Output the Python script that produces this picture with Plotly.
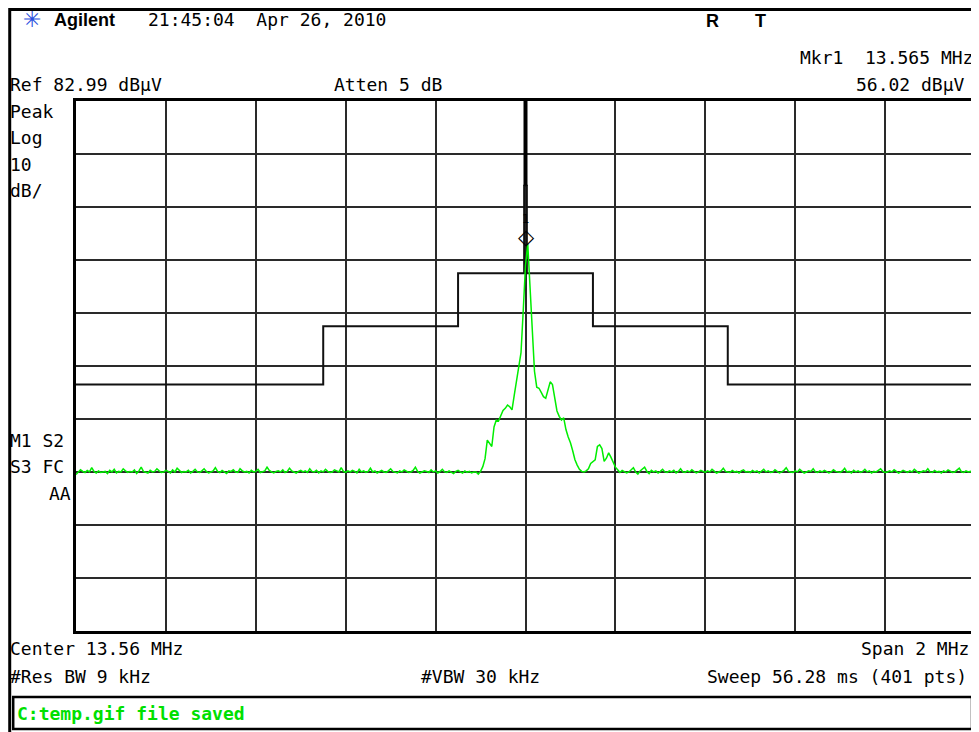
import plotly.graph_objects as go

# ---------------- data ----------------
center_mhz = 13.56
span_mhz = 2.0
ref_level = 82.99
db_per_div = 10

noise_left = [
    12.5, 13.0, 13.4, 13.1, 12.9, 13.3, 13.0, 13.8, 13.1, 12.8, 13.2, 12.9, 13.0, 13.1, 12.7, 13.3, 13.0, 13.5, 12.8, 13.1,
    13.0, 13.6, 13.2, 12.9, 13.1, 13.0, 13.4, 12.7, 13.2, 13.9, 13.1, 13.0, 12.8, 13.3, 13.0, 13.1, 13.6, 13.2, 12.9, 13.0,
    13.3, 13.1, 12.8, 13.4, 13.0, 13.7, 13.2, 12.9, 13.1, 13.0, 13.3, 12.8, 13.1, 13.5, 13.0, 12.9, 13.2, 13.6, 13.1, 12.8,
    13.0, 13.2, 13.8, 13.1, 12.9, 13.3, 13.0, 12.7, 13.2, 13.1, 13.4, 13.0, 12.9, 13.6, 13.2, 13.0, 13.1, 12.8, 13.3, 13.0,
    13.1, 13.5, 12.9, 13.0, 13.2, 13.9, 13.3, 13.0, 12.8, 13.1, 13.2, 13.0, 13.4, 12.9, 13.1, 13.7, 13.2, 13.0, 12.8, 13.1,
    13.3, 13.0, 13.2, 12.9, 13.6, 13.1, 13.0, 13.3, 12.8, 13.2, 13.0, 13.5, 13.1, 12.9, 13.0, 13.4, 13.2, 13.0, 13.8, 13.1,
    12.9, 13.2, 13.0, 13.3, 13.1, 12.8, 13.5, 13.0, 13.2, 12.9, 13.1, 13.7, 13.0, 13.2, 12.8, 13.1, 13.3, 13.0, 12.9, 13.2,
    13.6, 13.1, 13.0, 12.8, 13.2, 13.0, 13.4, 13.1, 12.9, 13.0, 13.3, 13.9, 13.1, 12.8, 13.0, 13.2, 13.1, 12.9, 13.4, 13.0,
    13.2, 12.8, 13.1, 13.5, 13.0, 12.9, 13.2, 13.0, 12.7, 13.1, 13.3, 13.0, 12.8, 13.2, 12.9, 13.1, 12.8, 13.0,
]
signal_mid = [
    13.0, 12.6, 13.1, 14.0, 15.5, 19.0, 18.5, 17.8, 21.5, 22.8, 22.6, 23.8, 24.6, 25.0, 25.6, 25.3, 24.7, 27.5, 30.0, 32.2,
    35.5, 43.5, 52.0, 56.02, 47.5, 38.5, 32.0, 29.0, 28.8, 28.0, 27.2, 26.9, 28.5, 30.0, 29.5, 27.2, 24.5, 23.5, 22.8, 23.2,
    21.0, 19.6, 18.5, 17.0, 15.3, 14.3, 13.5, 13.1, 13.0, 13.2, 13.6, 14.6, 15.0, 15.3, 17.8, 18.1, 17.4, 15.0, 15.6, 16.6,
    15.8, 14.9, 13.9, 13.4, 12.9, 13.3,
]
noise_right = [
    13.1, 12.8, 13.0, 13.4, 13.8, 13.0, 12.6, 13.2, 13.6, 13.9, 13.1, 12.7, 13.3, 13.0, 13.2, 12.8, 13.1, 13.5, 13.0, 12.9,
    13.2, 13.0, 13.3, 12.8, 13.1, 13.6, 13.0, 12.9, 13.2, 13.0, 13.4, 13.1, 12.8, 13.0, 13.3, 13.1, 12.9, 13.2, 13.0, 13.5,
    13.1, 12.8, 13.0, 13.2, 13.7, 13.1, 13.0, 12.9, 13.3, 13.0, 13.1, 12.8, 13.2, 13.4, 13.0, 13.1, 12.9, 13.3, 13.0, 13.2,
    12.8, 13.1, 13.5, 13.0, 13.2, 12.9, 13.0, 13.4, 13.1, 12.8, 13.0, 13.3, 13.8, 13.1, 13.0, 12.9, 13.2, 13.0, 13.5, 13.1,
    12.8, 13.0, 13.2, 13.1, 13.6, 13.0, 12.9, 13.2, 13.0, 13.3, 13.1, 12.8, 13.0, 13.4, 13.1, 13.0, 12.9, 13.2, 13.7, 13.0,
    13.1, 12.8, 13.3, 13.0, 13.2, 12.9, 13.1, 13.5, 13.0, 13.2, 12.8, 13.1, 13.0, 13.3, 13.6, 13.1, 12.9, 13.0, 13.2, 13.0,
    13.4, 13.1, 12.8, 13.0, 13.3, 13.1, 12.9, 13.2, 13.0, 13.5, 13.1, 12.8, 13.0, 13.2, 13.1, 13.6, 13.0, 12.9, 13.3, 13.0,
    13.1, 12.8, 13.2, 13.0, 13.4, 13.1, 12.9, 13.0, 13.3, 13.7, 13.0, 12.9, 13.2, 13.0, 13.1, 12.8, 13.1,
]

limit_freqs = [12.56, 13.110, 13.110, 13.410, 13.410, 13.557, 13.557, 13.563, 13.563, 13.710, 13.710, 14.010, 14.010, 14.56]
limit_levels = [29.5, 29.5, 40.5, 40.5, 50.5, 50.5, 67.0, 67.0, 50.5, 50.5, 40.5, 40.5, 29.5, 29.5]
center_band_freqs = [13.56, 13.56]
center_band_levels = [67.0, 82.99]

marker_freq = 13.565
marker_level = 56.02

# ---------------- build ----------------
trace_vals = noise_left + signal_mid + noise_right
n = len(trace_vals)
f_start = center_mhz - span_mhz / 2
f_stop = center_mhz + span_mhz / 2
freqs = [f_start + span_mhz * i / (n - 1) for i in range(n)]
y_bottom = ref_level - 10 * db_per_div

# target screen geometry (page body has an 8px margin)
OFF = 8
SW, SH = 979, 732
W, H = SW - OFF, SH - OFF
L, R, T, B = 76, 978, 101, 631


def px(x):
    return (x - L) / (R - L)


def py(y):
    return (B - y) / (B - T)


fig = go.Figure()
fig.add_trace(go.Scatter(x=limit_freqs, y=limit_levels, mode="lines",
                         line=dict(color="#111111", width=2), hoverinfo="skip"))
fig.add_trace(go.Scatter(x=center_band_freqs, y=center_band_levels, mode="lines",
                         line=dict(color="#000000", width=4), hoverinfo="skip"))
fig.add_trace(go.Scatter(x=freqs, y=trace_vals, mode="lines",
                         line=dict(color="#00ee00", width=1.5), hoverinfo="skip"))

MONO = "DejaVu Sans Mono"
anns = []


def txt(text, x, y, anchor="left", size=18, color="#000000", family=MONO):
    anns.append(dict(text=text, x=px(x), y=py(y), xref="paper", yref="paper",
                     xanchor=anchor, yanchor="middle", showarrow=False,
                     font=dict(family=family, size=size, color=color)))


NB = "\u00a0"
txt("✳", 32, 20, anchor="center", size=22, color="#2d4fe0", family="DejaVu Sans")
txt("<b>Agilent</b>", 52, 20, size=18, family="Liberation Sans")
txt("21:45:04" + NB * 2 + "Apr 26, 2010", 146, 20)
txt("<b>R</b>", 706, 21, size=18, family="Liberation Sans")
txt("<b>T</b>", 755, 21, size=18, family="Liberation Sans")
txt("Mkr1" + NB * 2 + "13.565 MHz", 978, 57, anchor="right")
txt("Ref 82.99 dBµV", 8, 84.5)
txt("Atten 5 dB", 333, 84.5)
txt("56.02 dBµV", 970, 84.5, anchor="right")
txt("Peak", 8, 111)
txt("Log", 8, 137.5)
txt("10", 8, 164)
txt("dB/", 8, 190)
txt("M1 S2", 8, 440)
txt("S3 FC", 8, 466)
txt("AA", 73, 493, anchor="right")
txt("Center 13.56 MHz", 8, 648)
txt("Span 2 MHz", 974, 648, anchor="right")
txt("#Res BW 9 kHz", 8, 676)
txt("#VBW 30 kHz", 420, 676)
txt("Sweep 56.28 ms (401 pts)", 972, 676, anchor="right")
txt("<b>C:temp.gif file saved</b>", 15, 713, color="#00e000")

# marker diamond + label anchored to the marker data point
anns.append(dict(text="◇", x=marker_freq, y=marker_level, xref="x", yref="y",
                 showarrow=False, yshift=7, xshift=-1,
                 font=dict(family="DejaVu Sans", size=21, color="#000000")))
anns.append(dict(text="1", x=marker_freq, y=marker_level, xref="x", yref="y",
                 showarrow=False, yshift=25, xshift=-2,
                 font=dict(family=MONO, size=12, color="#000000")))

shapes = [
    # outer frame (top and left edges), kept inside the figure canvas
    dict(type="line", xref="paper", yref="paper", x0=px(9), x1=px(979), y0=py(9.5), y1=py(9.5),
         line=dict(color="#000000", width=3)),
    dict(type="line", xref="paper", yref="paper", x0=px(9.5), x1=px(9.5), y0=py(8), y1=py(732),
         line=dict(color="#000000", width=3)),
    # status box
    dict(type="rect", xref="paper", yref="paper", x0=px(13), x1=px(975), y0=py(729), y1=py(697),
         line=dict(color="#000000", width=2.5)),
]

fig.update_layout(
    width=W, height=H,
    margin=dict(l=L - OFF, r=SW - R, t=T - OFF, b=SH - B),
    paper_bgcolor="white", plot_bgcolor="white",
    showlegend=False,
    annotations=anns, shapes=shapes,
    xaxis=dict(range=[f_start, f_stop], tick0=f_start, dtick=span_mhz / 10,
               showgrid=True, gridcolor="#2a2a2a", gridwidth=1.5,
               showticklabels=False, ticks="", zeroline=False,
               showline=True, linecolor="#000000", linewidth=3, mirror=True, fixedrange=True),
    yaxis=dict(range=[y_bottom, ref_level], tick0=ref_level, dtick=db_per_div,
               showgrid=True, gridcolor="#2a2a2a", gridwidth=1.5,
               showticklabels=False, ticks="", zeroline=False,
               showline=True, linecolor="#000000", linewidth=3, mirror=True, fixedrange=True),
)

fig.write_html("out.html", config={"displayModeBar": False})
